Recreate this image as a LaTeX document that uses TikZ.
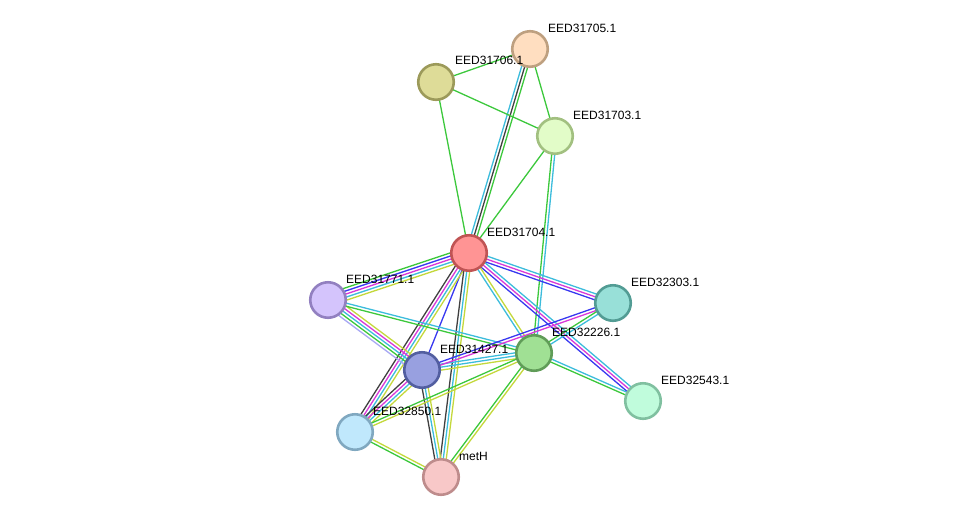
\documentclass[tikz,border=0pt]{standalone}
\usepackage{fontspec}
\setmainfont{Liberation Sans}
\usetikzlibrary{calc,backgrounds}
\definecolor{cgr}{HTML}{3CC83C}
\definecolor{ccy}{HTML}{3CBCDC}
\definecolor{cbk}{HTML}{404040}
\definecolor{cmg}{HTML}{D838D8}
\definecolor{cbl}{HTML}{3838F0}
\definecolor{cyl}{HTML}{C4D83C}
\definecolor{clv}{HTML}{A8A8F4}
\tikzset{
  prot/.style={circle,minimum size=35.5pt,inner sep=0pt,line width=2.6pt},
  lbl/.style={anchor=west,font=\fontsize{12}{14}\selectfont,inner sep=0pt},
  ew/.style={line width=1.3pt}
}
\newcommand{\medge}[4]{%
  \foreach \cc [count=\ii] in {#4}{%
    \pgfmathsetmacro\off{(\ii-1-(#3-1)/2)*3.0}%
    \draw[\cc,ew] ($(#1)!\off pt!90:(#2)$) -- ($(#2)!\off pt!-90:(#1)$);}}
\begin{document}
\begin{tikzpicture}[x=1pt,y=-1pt]
\useasboundingbox (0,0) rectangle (975,523);
\node[prot,fill={rgb,255:red,255;green,222;blue,192},draw={rgb,255:red,190;green,160;blue,128}] (n05) at (530,49) {};
\node[prot,fill={rgb,255:red,222;green,220;blue,152},draw={rgb,255:red,156;green,154;blue,90}] (n06) at (436,82) {};
\node[prot,fill={rgb,255:red,226;green,252;blue,200},draw={rgb,255:red,162;green,192;blue,128}] (n03) at (555,136) {};
\node[prot,fill={rgb,255:red,255;green,148;blue,148},draw={rgb,255:red,192;green,84;blue,84}] (n04) at (469,253) {};
\node[prot,fill={rgb,255:red,212;green,196;blue,252},draw={rgb,255:red,146;green,128;blue,192}] (n71) at (328,300) {};
\node[prot,fill={rgb,255:red,152;green,224;blue,216},draw={rgb,255:red,82;green,156;blue,148}] (n303) at (613,303) {};
\node[prot,fill={rgb,255:red,160;green,224;blue,148},draw={rgb,255:red,96;green,156;blue,88}] (n226) at (534,353) {};
\node[prot,fill={rgb,255:red,152;green,160;blue,224},draw={rgb,255:red,82;green,94;blue,160}] (n27) at (422,370) {};
\node[prot,fill={rgb,255:red,192;green,252;blue,220},draw={rgb,255:red,128;green,192;blue,160}] (n543) at (643,401) {};
\node[prot,fill={rgb,255:red,192;green,232;blue,252},draw={rgb,255:red,128;green,168;blue,192}] (n850) at (355,432) {};
\node[prot,fill={rgb,255:red,248;green,200;blue,200},draw={rgb,255:red,190;green,140;blue,140}] (nmet) at (441,477) {};
\node[lbl] (l05) at ($(n05)+(18,-21)$) {EED31705.1};
\node[lbl] (l06) at ($(n06)+(19,-22)$) {EED31706.1};
\node[lbl] (l03) at ($(n03)+(18,-21)$) {EED31703.1};
\node[lbl] (l04) at ($(n04)+(18,-21)$) {EED31704.1};
\node[lbl] (l71) at ($(n71)+(18,-21)$) {EED31771.1};
\node[lbl] (l303) at ($(n303)+(18,-21)$) {EED32303.1};
\node[lbl] (l226) at ($(n226)+(18,-21)$) {EED32226.1};
\node[lbl] (l27) at ($(n27)+(18,-21)$) {EED31427.1};
\node[lbl] (l543) at ($(n543)+(18,-21)$) {EED32543.1};
\node[lbl] (l850) at ($(n850)+(18,-21)$) {EED32850.1};
\node[lbl] (lmet) at ($(nmet)+(18,-21)$) {metH};
\begin{pgfonlayer}{background}
\medge{n05}{n06}{1}{cgr}
\medge{n05}{n03}{1}{cgr}
\medge{n05}{n04}{3}{ccy,cbk,cgr}
\medge{n06}{n03}{1}{cgr}
\medge{n06}{n04}{1}{cgr}
\medge{n03}{n04}{1}{cgr}
\medge{n03}{n226}{2}{cgr,ccy}
\medge{n04}{n71}{5}{cgr,cbl,cmg,ccy,cyl}
\medge{n04}{n303}{3}{cbl,cmg,ccy}
\medge{n04}{n543}{3}{cbl,cmg,ccy}
\medge{n04}{n226}{2}{ccy,cyl}
\medge{n04}{n27}{1}{cbl}
\medge{n04}{n850}{4}{cbk,cmg,ccy,cyl}
\medge{n04}{nmet}{3}{cbk,ccy,cyl}
\medge{n71}{n27}{5}{clv,cgr,ccy,cmg,cyl}
\medge{n71}{n226}{2}{cgr,ccy}
\medge{n27}{n226}{3}{cyl,ccy,ccy}
\medge{n27}{n303}{2}{cmg,cbl}
\medge{n27}{n850}{4}{cbk,cmg,ccy,cyl}
\medge{n27}{nmet}{3}{cbk,ccy,cyl}
\medge{n226}{n303}{2}{ccy,cgr}
\medge{n226}{n543}{2}{cgr,ccy}
\medge{n226}{n850}{2}{cgr,cyl}
\medge{n226}{nmet}{2}{cgr,cyl}
\medge{n850}{nmet}{2}{cgr,cyl}
\end{pgfonlayer}
\end{tikzpicture}
\end{document}
